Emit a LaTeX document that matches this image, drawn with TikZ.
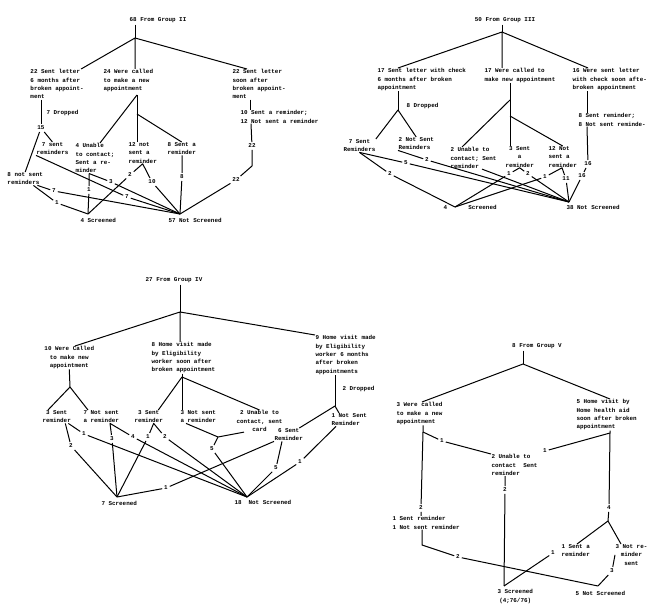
\documentclass[tikz,border=0pt]{standalone}
\usepackage{fontspec}
\newfontfamily\typefont{Liberation Mono}
\begin{document}
\begin{tikzpicture}[x=1pt,y=-1pt,line width=1pt,line join=round,
  txt/.style={font=\typefont\bfseries\fontsize{5.9}{8.4}\selectfont,inner sep=0pt,anchor=north west,align=left},
  ctxt/.style={txt,align=center},
  note/.style={txt,anchor=west},
  num/.style={font=\typefont\bfseries\fontsize{5.9}{8.4}\selectfont,inner sep=1.5pt}]
\useasboundingbox (0,0) rectangle (649,604);

\node[num] (t2) at (158,20) {68 From Group II};
\coordinate (j2) at (135,38);
\node[txt] (a2) at (30,69) {22 Sent letter\\6 months after\\broken appoint-\\ment};
\node[txt] (b2) at (103,69) {24 Were called\\to make a new\\appointment};
\node[txt] (c2) at (232,69) {22 Sent letter\\soon after\\broken appoint-\\ment};
\draw (j2 |- t2.south) -- (j2);
\draw ([xshift=-3pt]a2.north east) -- (j2) -- (j2 |- b2.north);
\draw (j2) -- ([xshift=15pt]c2.north west);
\node[num] (n15) at (41,128) {15};
\node[note] (dr2) at (46,113) {7 Dropped};
\draw ([xshift=11pt]a2.south west) -- (n15);
\node[ctxt] (sr2) at (36,142) {7 sent\\reminders};
\node[txt] (ns2) at (7,172) {8 not sent\\reminders};
\draw (ns2.north) -- (n15) -- (sr2.north);
\coordinate (bj2) at (137,95);
\coordinate (bk2) at (137,114);
\node[txt] (d2) at (75,143) {4 Unable\\to contact;\\Sent a re-\\minder};
\node[txt] (e2) at (128,142) {12 not\\sent a\\reminder};
\node[txt] (f2) at (167,142) {8 Sent a\\reminder};
\draw (bj2) -- (bj2 |- e2.north);
\draw ([xshift=25pt]d2.north west) -- (bj2);
\draw (bk2) -- (f2.north);
\node[txt] (r2) at (240,110) {10 Sent a reminder;\\12 Not sent a reminder};
\draw ([xshift=18pt]c2.south west) -- ([xshift=10pt]r2.north west);
\coordinate (sj2) at (88,214);
\coordinate (nj2) at (180,214);
\node[txt] (s2) at (80,218) {4 Screened};
\node[txt] (q2) at (168,218) {57 Not Screened};
\node[num] (l22a) at (252,146) {22};
\coordinate (k2) at (252,166);
\node[num] (l22b) at (236,180) {22};
\draw ([xshift=11pt]r2.south west) -- (l22a) -- (k2) -- (l22b) -- (nj2);
\node[num] (l7a) at (54,191) {7};
\node[num] (l1a) at (57,203) {1};
\node[num] (l7b) at (127,197) {7};
\node[num] (l1b) at (89,190) {1};
\node[num] (l3a) at (111,182) {3};
\node[num] (l2a) at (130,175) {2};
\node[num] (l10a) at (152,182) {10};
\node[num] (l8a) at (182,177) {8};
\draw ([xshift=-6pt]ns2.south east) -- (l7a) -- (nj2);
\draw ([xshift=-10pt]ns2.south east) -- (l1a) -- (sj2);
\draw (sr2.south west) -- (l7b) -- (nj2);
\draw ([xshift=14pt]d2.south west) -- (l1b) -- (sj2);
\draw ([xshift=14pt]d2.south west) -- (l3a) -- (nj2);
\draw (l2a) -- (e2.south) -- (l10a);
\draw (l2a) -- (sj2);
\draw (l10a) -- (nj2);
\draw ([xshift=15pt]f2.south west) -- (l8a) -- (nj2);

\node[num] (t3) at (505,20) {50 From Group III};
\coordinate (j3) at (502,32);
\node[txt] (a3) at (377,68) {17 Sent letter with check\\6 months after broken\\appointment};
\node[txt] (b3) at (484,68) {17 Were called to\\make new appointment};
\node[txt] (c3) at (572,68) {16 Were sent letter\\with check soon afte-\\broken appointment};
\draw (j3 |- t3.south) -- (j3);
\draw ([xshift=21pt]a3.north west) -- (j3) -- (j3 |- b3.north);
\draw (j3) -- ([xshift=16pt]c3.north west);
\coordinate (ja3) at (398,110);
\node[note] (dr3) at (406,106) {8 Dropped};
\node[ctxt] (sr3) at (343,139) {7 Sent\\Reminders};
\node[txt] (nr3) at (398,137) {2 Not Sent\\Reminders};
\draw ([xshift=21pt]a3.south west) -- (ja3);
\draw (sr3.north east) -- (ja3) -- (nr3.north);
\coordinate (bj3) at (510,100);
\coordinate (bk3) at (510,116);
\node[txt] (ua3) at (450,147) {2 Unable to\\contact; Sent\\reminder};
\node[ctxt] (sa3) at (505,146) {3 Sent\\a\\reminder};
\node[txt] (na3) at (548,146) {12 Not\\sent a\\reminder};
\draw (bj3 |- b3.south) -- (bj3 |- sa3.north);
\draw (bj3) -- ([xshift=12pt]ua3.north west);
\draw (bk3) -- (na3.north);
\node[txt] (rm3) at (578,113) {8 Sent reminder;\\8 Not sent reminde-};
\draw ([xshift=15pt]c3.south west) -- ([xshift=9pt]rm3.north west);
\coordinate (sj3) at (455,207);
\coordinate (nj3) at (569,202);
\node[txt] (s3) at (443,205) {4\ \ \ \ \ \ Screened};
\node[txt] (q3) at (566,205) {38 Not Screened};
\node[num] (l16a) at (588,164) {16};
\node[num] (l16b) at (582,176) {16};
\draw ([xshift=9pt]rm3.south west) -- (l16a) -- (l16b) -- (nj3);
\node[num] (l5a) at (406,163) {5};
\node[num] (l2b) at (390,174) {2};
\node[num] (l2c) at (427,160) {2};
\node[num] (l1c) at (509,174) {1};
\node[num] (l2d) at (528,174) {2};
\node[num] (l1d) at (545,177) {1};
\node[num] (l11) at (566,179) {11};
\draw (sr3.south) -- (l5a) -- (nj3);
\draw (sr3.south) -- (l2b) -- (sj3);
\draw (nr3.south west) -- (l2c) -- (nj3);
\draw ([xshift=-15pt]ua3.south east) -- (nj3);
\draw (l1c) -- (sa3.south) -- (l2d);
\draw (l1c) -- (sj3);
\draw (l2d) -- (nj3);
\draw (l1d) -- ([xshift=14pt]na3.south west) -- (l11);
\draw (l1d) -- (sj3);
\draw (l11) -- (nj3);

\node[num] (t4) at (174,280) {27 From Group IV};
\coordinate (j4) at (180,312);
\node[ctxt] (a4) at (44,346) {10 Were Called\\to make new\\appointment};
\node[txt] (b4) at (151,342) {8 Home visit made\\by Eligibility\\worker soon after\\broken appointment};
\node[txt] (c4) at (315,335) {9 Home visit made\\by Eligibility\\worker 6 months\\after broken\\appointments};
\draw (j4 |- t4.south) -- (j4);
\draw ([xshift=31pt]a4.north west) -- (j4) -- (j4 |- b4.north);
\draw (j4) -- (c4.north west);
\coordinate (ja4) at (70,387);
\node[ctxt] (sa4) at (42,410) {3 Sent\\reminder};
\node[txt] (na4) at (83,410) {7 Not sent\\a reminder};
\draw (a4.south) -- (ja4);
\draw ([xshift=6pt]sa4.north west) -- (ja4) -- ([xshift=5pt]na4.north west);
\coordinate (jb4) at (182,377);
\node[ctxt] (sb4) at (134,410) {3 Sent\\reminder};
\node[txt] (nb4) at (180,410) {3 Not sent\\a reminder};
\node[ctxt] (ub4) at (236,410) {2 Unable to\\contact, sent\\card};
\draw (jb4 |- b4.south) -- (jb4 |- nb4.north);
\draw ([xshift=-5pt]sb4.north east) -- (jb4) -- (ub4.north);
\coordinate (jc4) at (335,406);
\node[note] (dr4) at (342,389) {2 Dropped};
\node[ctxt] (se4) at (274,428) {6 Sent\\Reminder};
\node[txt] (ne4) at (331,413) {1 Not Sent\\Reminder};
\draw ([xshift=20pt]c4.south west) -- (jc4);
\draw ([xshift=-4pt]se4.north east) -- (jc4) -- ([xshift=8pt]ne4.north west);
\coordinate (sj4) at (117,497);
\coordinate (nj4) at (247,497);
\node[txt] (s4) at (101,501) {7 Screened};
\node[txt] (q4) at (234,500) {18\ \ Not Screened};
\node[num] (l1k) at (84,434) {1};
\node[num] (l2k) at (71,446) {2};
\node[num] (l3b) at (112,439) {3};
\node[num] (l4a) at (133,437) {4};
\node[num] (l1e) at (148,437) {1};
\node[num] (l2e) at (165,437) {2};
\coordinate (kb4) at (218,437);
\node[num] (l5b) at (212,449) {5};
\node[num] (l5c) at (276,468) {5};
\node[num] (l1f) at (166,488) {1};
\node[num] (l1g) at (300,462) {1};
\draw ([xshift=-3pt]sa4.south east) -- (l1k) -- (nj4);
\draw ([xshift=-6pt]sa4.south east) -- (l2k) -- (sj4);
\draw (l3b) -- ([xshift=27pt]na4.south west) -- (l4a);
\draw (l3b) -- (sj4);
\draw (l4a) -- (nj4);
\draw (l1e) -- ([xshift=5pt]sb4.south) -- (l2e);
\draw (l1e) -- (sj4);
\draw (l2e) -- (nj4);
\draw ([xshift=6pt]nb4.south west) -- (kb4) -- ([xshift=8pt]ub4.south west);
\draw (kb4) -- (l5b) -- (nj4);
\draw ([xshift=8pt]se4.south west) -- (l5c) -- (nj4);
\draw (se4.south west) -- (l1f) -- (sj4);
\draw ([xshift=5pt]ne4.south west) -- (l1g) -- (nj4);

\node[num] (t5) at (537,346) {8 From Group V};
\coordinate (j5) at (523,364);
\node[txt] (a5) at (396,402) {3 Were called\\to make a new\\appointment};
\node[txt] (c5) at (576,399) {5 Home visit by\\Home health aid\\soon after broken\\appointment};
\draw (j5 |- t5.south) -- (j5);
\draw ([xshift=26pt]a5.north west) -- (j5) -- ([xshift=34pt]c5.north west);
\coordinate (ja5) at (423,432);
\node[num] (l1h) at (442,441) {1};
\node[txt] (u5) at (491,454) {2 Unable to\\contact\ \ Sent\\reminder};
\node[num] (l2f) at (421,508) {2};
\node[txt] (s15) at (392,516) {1 Sent reminder\\1 Not sent reminder};
\draw ([xshift=27pt]a5.south west) -- (ja5) -- (l2f) -- ([xshift=29pt]s15.north west);
\draw (ja5) -- (l1h) -- (u5.north west);
\coordinate (jc5) at (610,433);
\node[num] (l1i) at (545,451) {1};
\node[num] (l4b) at (609,508) {4};
\coordinate (kc5) at (608,521);
\node[txt] (sa5) at (561,544) {1 Sent a\\reminder};
\node[ctxt] (nr5) at (615,544) {3 Not re-\\minder\\sent};
\draw ([xshift=34pt]c5.south west) -- (jc5) -- (l4b) -- (kc5);
\draw (jc5) -- (l1i);
\draw ([xshift=16pt]sa5.north west) -- (kc5) -- ([xshift=6pt]nr5.north west);
\coordinate (sj5) at (504,586);
\coordinate (nj5) at (598,586);
\node[ctxt] (s5) at (497,589) {3 Screened\\(4;76/76)};
\node[txt] (q5) at (575,591) {5 Not Screened};
\node[num] (l2g) at (505,490) {2};
\draw ([xshift=14pt]u5.south west) -- (l2g) -- (sj5);
\coordinate (k5) at (422,545);
\node[num] (l2h) at (458,557) {2};
\draw ([xshift=30pt]s15.south west) -- (k5) -- (l2h) -- (nj5);
\node[num] (l1j) at (553,553) {1};
\draw (l1j) -- (sj5);
\node[num] (l3c) at (612,571) {3};
\draw (nr5.west) -- (l3c) -- (nj5);
\end{tikzpicture}
\end{document}
